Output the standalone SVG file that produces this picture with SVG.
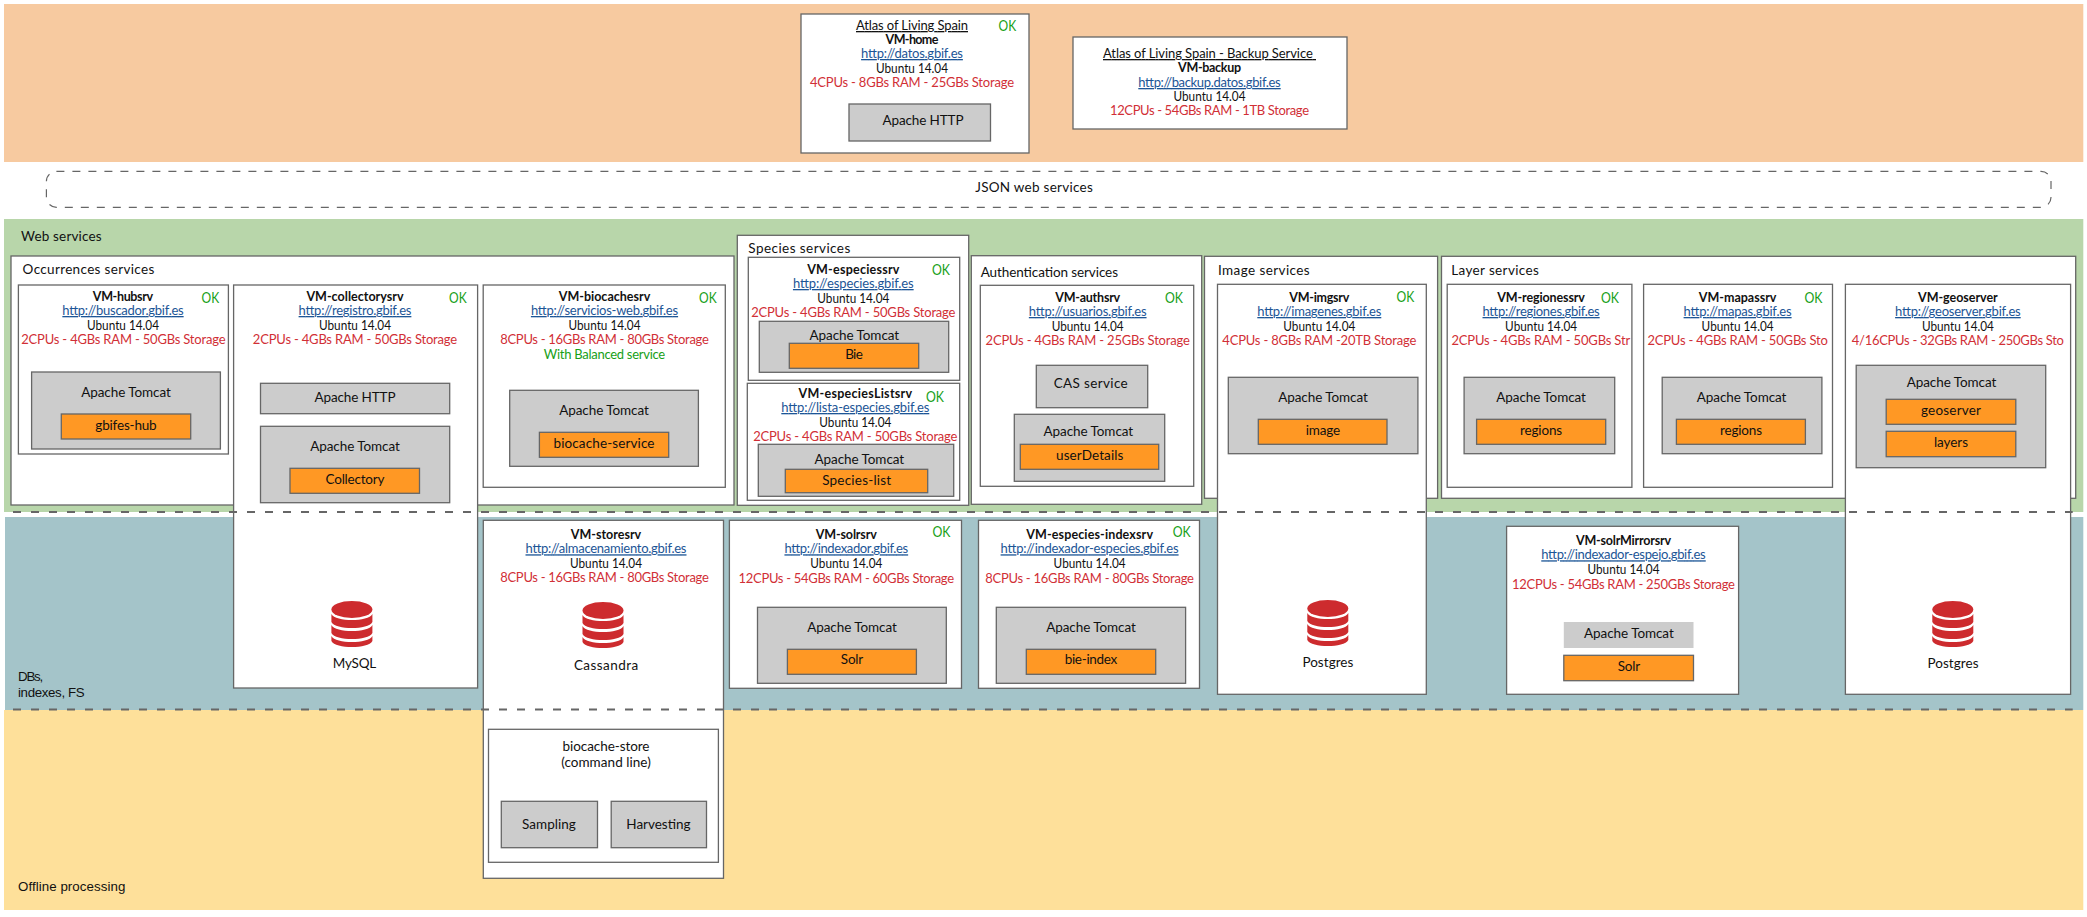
<svg xmlns="http://www.w3.org/2000/svg" xmlns:xlink="http://www.w3.org/1999/xlink" width="2087" height="917" viewBox="0 0 2087 917">
<style>
text{font-family:"Lato","Noto Sans","Liberation Sans",sans-serif;font-size:13.5px;fill:#111}
.m{text-anchor:middle}
.b{font-weight:700;font-size:12.5px}
.l{fill:#1c5596;text-decoration:underline;font-size:13px}
.r{fill:#d12f36;font-size:13px}
.k{fill:#17a017;font-size:15px}
.g{fill:#17a017;font-size:13px}
.u{text-decoration:underline;font-size:13px}
.a{font-family:"Liberation Sans",Arial,sans-serif;font-size:13.3px}
.w{fill:#fff;stroke:#666;stroke-width:1.3}
.y{fill:#ccc;stroke:#666;stroke-width:1.3}
.o{fill:#ff9824;stroke:#666;stroke-width:1.3}
.d{fill:none;stroke:#666;stroke-width:2.2;stroke-dasharray:8 10}
</style>
<defs>
<g id="db" fill="#cd2b2e">
<ellipse cx="20.5" cy="8.5" rx="20.5" ry="8.5"/>
<path d="M0 13C4 21 37 21 41 13V21C37 29 4 29 0 21Z"/>
<path d="M0 24C4 32 37 32 41 24V32C37 40 4 40 0 32Z"/>
<path d="M0 35C4 43 37 43 41 35V40C37 48 4 48 0 40Z"/>
</g>
</defs>
<rect width="2087" height="917" fill="#fff"/>
<g id="bands">
<rect x="4" y="4" width="2079.3" height="158" fill="#f7caa0"/>
<rect x="4" y="219" width="2079.3" height="293" fill="#b8d6aa"/>
<rect x="5" y="517" width="2078.3" height="193" fill="#a4c4c9"/>
<rect x="4" y="710" width="2079.3" height="200" fill="#fee09a"/>
<text x="21" y="241" textLength="80.7">Web services</text>
<text class="a" x="18" y="681" textLength="25.3">DBs,</text>
<text class="a" x="18" y="697" textLength="66.7">indexes, FS</text>
<text class="a" x="18" y="891" textLength="107.3">Offline processing</text>
</g>
<g id="json-web-services">
<rect x="46.4" y="171.3" width="2004.6" height="36" rx="10" fill="#fff" stroke="#666" stroke-width="1.2" stroke-dasharray="8 8"/>
<text class="m" x="1034" y="192" textLength="117.5">JSON web services</text>
</g>
<g id="vm-home">
<rect class="w" x="801" y="14" width="228" height="139"/>
<text class="m u" x="912" y="30" textLength="112">Atlas of Living Spain</text>
<text class="k" x="998.5" y="31" textLength="17.6" lengthAdjust="spacingAndGlyphs">OK</text>
<text class="m b" x="912" y="44" textLength="52.8">VM-home</text>
<text class="m l" x="912" y="58" textLength="101.8">http://datos.gbif.es</text>
<text class="m" x="912" y="73" textLength="72" lengthAdjust="spacingAndGlyphs">Ubuntu 14.04</text>
<text class="m r" x="912" y="87" textLength="204">4CPUs - 8GBs RAM - 25GBs Storage</text>
<rect class="y" x="849" y="104" width="141.5" height="37"/>
<text class="m" x="923" y="125" textLength="81">Apache HTTP</text>
</g>
<g id="vm-backup">
<rect class="w" x="1073" y="37" width="274" height="92"/>
<text class="m u" x="1209.5" y="58" textLength="213">Atlas of Living Spain - Backup Service&#160;</text>
<text class="m b" x="1209.5" y="72" textLength="63">VM-backup</text>
<text class="m l" x="1209.5" y="87" textLength="142.4">http://backup.datos.gbif.es</text>
<text class="m" x="1209.5" y="101" textLength="72" lengthAdjust="spacingAndGlyphs">Ubuntu 14.04</text>
<text class="m r" x="1209.5" y="115" textLength="199">12CPUs - 54GBs RAM - 1TB Storage</text>
</g>
<g id="occurrences-services">
<rect class="w" x="11" y="256" width="723" height="249"/>
<text x="22.6" y="274" textLength="131.7">Occurrences services</text>
</g>
<g id="species-services">
<rect class="w" x="737.3" y="235.3" width="231.4" height="270"/>
<text x="748.3" y="252.7" textLength="102">Species services</text>
</g>
<g id="authentication-services">
<rect class="w" x="971.3" y="255.7" width="230.4" height="248.6"/>
<text x="980.7" y="277.3" textLength="137.3">Authentication services</text>
</g>
<g id="image-services">
<rect class="w" x="1204.5" y="256.3" width="233.1" height="242"/>
<text x="1218" y="274.7" textLength="91.7">Image services</text>
</g>
<g id="layer-services">
<rect class="w" x="1441.5" y="256.3" width="634.2" height="242"/>
<text x="1451.2" y="274.7" textLength="87.7">Layer services</text>
</g>
<g id="vm-hubsrv">
<rect class="w" x="18.4" y="285" width="210" height="169"/>
<text class="m b" x="123" y="301" textLength="60.4">VM-hubsrv</text>
<text class="k" x="201.5" y="303" textLength="17.6" lengthAdjust="spacingAndGlyphs">OK</text>
<text class="m l" x="123" y="315" textLength="121.3">http://buscador.gbif.es</text>
<text class="m" x="123" y="330" textLength="72" lengthAdjust="spacingAndGlyphs">Ubuntu 14.04</text>
<text class="m r" x="123.4" y="344" textLength="204.3">2CPUs - 4GBs RAM - 50GBs Storage</text>
<rect class="y" x="31.6" y="372" width="188.8" height="77"/>
<text class="m" x="126" y="397" textLength="89.7">Apache Tomcat</text>
<rect class="o" x="61.3" y="414" width="129.4" height="25"/>
<text class="m" x="126" y="430" textLength="61.3">gbifes-hub</text>
</g>
<g id="vm-collectorysrv">
<rect class="w" x="233.6" y="285" width="244" height="403"/>
<text class="m b" x="355" y="301" textLength="97.2">VM-collectorysrv</text>
<text class="k" x="449" y="303" textLength="17.6" lengthAdjust="spacingAndGlyphs">OK</text>
<text class="m l" x="355" y="315" textLength="112.8">http://registro.gbif.es</text>
<text class="m" x="355" y="330" textLength="72" lengthAdjust="spacingAndGlyphs">Ubuntu 14.04</text>
<text class="m r" x="355" y="344" textLength="204.3">2CPUs - 4GBs RAM - 50GBs Storage</text>
<rect class="y" x="260.5" y="383.3" width="189.2" height="30.4"/>
<text class="m" x="355" y="402" textLength="81">Apache HTTP</text>
<rect class="y" x="260.5" y="426.3" width="189.2" height="76.4"/>
<text class="m" x="355" y="451" textLength="89.7">Apache Tomcat</text>
<rect class="o" x="290" y="468.3" width="129.5" height="25"/>
<text class="m" x="355" y="484" textLength="59">Collectory</text>
<use xlink:href="#db" href="#db" x="331.4" y="601"/>
<text class="m" x="354.5" y="668" textLength="43.4">MySQL</text>
</g>
<g id="vm-biocachesrv">
<rect class="w" x="483.2" y="285" width="242.1" height="202.3"/>
<text class="m b" x="604.5" y="301" textLength="91.5">VM-biocachesrv</text>
<text class="k" x="699" y="303" textLength="17.6" lengthAdjust="spacingAndGlyphs">OK</text>
<text class="m l" x="604.5" y="315" textLength="147.2">http://servicios-web.gbif.es</text>
<text class="m" x="604.5" y="330" textLength="72" lengthAdjust="spacingAndGlyphs">Ubuntu 14.04</text>
<text class="m r" x="604.5" y="344" textLength="208.6">8CPUs - 16GBs RAM - 80GBs Storage</text>
<text class="m g" x="604.5" y="359" textLength="121.3">With Balanced service</text>
<rect class="y" x="509.7" y="390.3" width="188.7" height="76"/>
<text class="m" x="604" y="415" textLength="89.7">Apache Tomcat</text>
<rect class="o" x="539.4" y="432.3" width="129.3" height="25"/>
<text class="m" x="604" y="448" textLength="101">biocache-service</text>
</g>
<g id="vm-especiessrv">
<rect class="w" x="748.3" y="257.3" width="211.4" height="123"/>
<text class="m b" x="853.3" y="273.7" textLength="92.3">VM-especiessrv</text>
<text class="k" x="932" y="275" textLength="18" lengthAdjust="spacingAndGlyphs">OK</text>
<text class="m l" x="853.3" y="288" textLength="120.7">http://especies.gbif.es</text>
<text class="m" x="853.3" y="302.7" textLength="72" lengthAdjust="spacingAndGlyphs">Ubuntu 14.04</text>
<text class="m r" x="853.3" y="316.7" textLength="204.3">2CPUs - 4GBs RAM - 50GBs Storage</text>
<rect class="y" x="759.3" y="321.3" width="189.4" height="51"/>
<text class="m" x="854.3" y="340" textLength="89.7">Apache Tomcat</text>
<rect class="o" x="789.3" y="343.3" width="129.4" height="25"/>
<text class="m" x="854" y="359" textLength="17.7">Bie</text>
</g>
<g id="vm-especieslistsrv">
<rect class="w" x="747.3" y="383.3" width="212.4" height="117"/>
<text class="m b" x="855.3" y="397.7" textLength="113.7">VM-especiesListsrv</text>
<text class="k" x="926" y="401.7" textLength="18" lengthAdjust="spacingAndGlyphs">OK</text>
<text class="m l" x="855.3" y="412" textLength="148">http://lista-especies.gbif.es</text>
<text class="m" x="855.3" y="426.7" textLength="72" lengthAdjust="spacingAndGlyphs">Ubuntu 14.04</text>
<text class="m r" x="855.3" y="440.7" textLength="204.3">2CPUs - 4GBs RAM - 50GBs Storage</text>
<rect class="y" x="758.3" y="444.3" width="195.4" height="52"/>
<text class="m" x="859.3" y="463.7" textLength="89.7">Apache Tomcat</text>
<rect class="o" x="785.3" y="469.3" width="142.4" height="23.4"/>
<text class="m" x="856.7" y="484.7" textLength="69">Species-list</text>
</g>
<g id="vm-authsrv">
<rect class="w" x="980.3" y="285.3" width="213.4" height="201"/>
<text class="m b" x="1087.7" y="301.7" textLength="65">VM-authsrv</text>
<text class="k" x="1165" y="302.7" textLength="18" lengthAdjust="spacingAndGlyphs">OK</text>
<text class="m l" x="1087.7" y="316" textLength="117.7">http://usuarios.gbif.es</text>
<text class="m" x="1087.7" y="330.7" textLength="72" lengthAdjust="spacingAndGlyphs">Ubuntu 14.04</text>
<text class="m r" x="1087.7" y="344.7" textLength="204.3">2CPUs - 4GBs RAM - 25GBs Storage</text>
<rect class="y" x="1036.3" y="365.3" width="111.4" height="42.4"/>
<text class="m" x="1090.7" y="388.3" textLength="74">CAS service</text>
<rect class="y" x="1014.3" y="414.3" width="150.4" height="67"/>
<text class="m" x="1088.3" y="436.3" textLength="89.7">Apache Tomcat</text>
<rect class="o" x="1020.3" y="444.3" width="138.4" height="25"/>
<text class="m" x="1089.7" y="459.7" textLength="67.3">userDetails</text>
</g>
<g id="vm-imgsrv">
<rect class="w" x="1217.5" y="284.3" width="208.8" height="410"/>
<text class="m b" x="1319.3" y="301.7" textLength="60">VM-imgsrv</text>
<text class="k" x="1396.5" y="301.7" textLength="17.8" lengthAdjust="spacingAndGlyphs">OK</text>
<text class="m l" x="1319.3" y="316" textLength="124">http://imagenes.gbif.es</text>
<text class="m" x="1319.3" y="330.7" textLength="72" lengthAdjust="spacingAndGlyphs">Ubuntu 14.04</text>
<text class="m r" x="1319.3" y="344.7" textLength="194">4CPUs - 8GBs RAM -20TB Storage</text>
<rect class="y" x="1228.3" y="377.3" width="189.6" height="76.4"/>
<text class="m" x="1323" y="401.7" textLength="89.7">Apache Tomcat</text>
<rect class="o" x="1258.3" y="419.3" width="128.7" height="25"/>
<text class="m" x="1323" y="435" textLength="34.5">image</text>
<use xlink:href="#db" href="#db" x="1307.3" y="600"/>
<text class="m" x="1327.9" y="667.3" textLength="51">Postgres</text>
</g>
<g id="vm-regionessrv">
<rect class="w" x="1447.2" y="284.3" width="184.7" height="203"/>
<text class="m b" x="1541.1" y="301.7" textLength="87.7">VM-regionessrv</text>
<text class="k" x="1601" y="303.3" textLength="18" lengthAdjust="spacingAndGlyphs">OK</text>
<text class="m l" x="1541.1" y="316" textLength="117.2">http://regiones.gbif.es</text>
<text class="m" x="1541.1" y="330.7" textLength="72" lengthAdjust="spacingAndGlyphs">Ubuntu 14.04</text>
<text class="m r" x="1540.8" y="344.7" textLength="178.7">2CPUs - 4GBs RAM - 50GBs Str</text>
<rect class="y" x="1464.1" y="377.3" width="150.6" height="76.4"/>
<text class="m" x="1541.1" y="401.7" textLength="89.7">Apache Tomcat</text>
<rect class="o" x="1476.6" y="419.3" width="129.1" height="25"/>
<text class="m" x="1541.1" y="435" textLength="42">regions</text>
</g>
<g id="vm-mapassrv">
<rect class="w" x="1643.6" y="284.3" width="188.9" height="203"/>
<text class="m b" x="1737.6" y="301.7" textLength="77.6">VM-mapassrv</text>
<text class="k" x="1804.4" y="303.3" textLength="18" lengthAdjust="spacingAndGlyphs">OK</text>
<text class="m l" x="1737.6" y="316" textLength="108">http://mapas.gbif.es</text>
<text class="m" x="1737.6" y="330.7" textLength="72" lengthAdjust="spacingAndGlyphs">Ubuntu 14.04</text>
<text class="m r" x="1737.6" y="344.7" textLength="180.4">2CPUs - 4GBs RAM - 50GBs Sto</text>
<rect class="y" x="1662.2" y="377.3" width="159.7" height="76.4"/>
<text class="m" x="1741.6" y="401.7" textLength="89.7">Apache Tomcat</text>
<rect class="o" x="1676.4" y="419.3" width="129" height="25"/>
<text class="m" x="1741" y="435" textLength="42">regions</text>
</g>
<g id="vm-geoserver">
<rect class="w" x="1845.4" y="284.3" width="225.2" height="410"/>
<text class="m b" x="1957.9" y="301.7" textLength="79.7">VM-geoserver</text>
<text class="m l" x="1957.9" y="316" textLength="125.6">http://geoserver.gbif.es</text>
<text class="m" x="1957.9" y="330.7" textLength="72" lengthAdjust="spacingAndGlyphs">Ubuntu 14.04</text>
<text class="m r" x="1957.9" y="344.7" textLength="212.1">4/16CPUs - 32GBs RAM - 250GBs Sto</text>
<rect class="y" x="1856.2" y="365.3" width="189.5" height="102.4"/>
<text class="m" x="1951.5" y="386.7" textLength="89.7">Apache Tomcat</text>
<rect class="o" x="1886.2" y="399.3" width="129.6" height="25"/>
<text class="m" x="1951" y="415" textLength="60">geoserver</text>
<rect class="o" x="1886.2" y="431.3" width="129.6" height="25.4"/>
<text class="m" x="1951" y="446.7" textLength="34">layers</text>
<use xlink:href="#db" href="#db" x="1932.3" y="601"/>
<text class="m" x="1953" y="668.3" textLength="51">Postgres</text>
</g>
<g id="vm-storesrv">
<rect class="w" x="483.3" y="520.3" width="240.2" height="358"/>
<text class="m b" x="606" y="539.3" textLength="70.3">VM-storesrv</text>
<text class="m l" x="606" y="553.3" textLength="161">http://almacenamiento.gbif.es</text>
<text class="m" x="606" y="568.3" textLength="72" lengthAdjust="spacingAndGlyphs">Ubuntu 14.04</text>
<text class="m r" x="604.5" y="582.3" textLength="208.6">8CPUs - 16GBs RAM - 80GBs Storage</text>
<use xlink:href="#db" href="#db" x="582.5" y="602"/>
<text class="m" x="606" y="669.7" textLength="64.2">Cassandra</text>
</g>
<g id="biocache-store">
<rect class="w" x="488.5" y="729.3" width="229.9" height="133"/>
<text class="m" x="606" y="750.7" textLength="86.8">biocache-store</text>
<text class="m" x="606" y="766.7" textLength="89.7">(command line)</text>
<rect class="y" x="501.3" y="801.3" width="96.2" height="46.4"/>
<text class="m" x="549" y="828.7" textLength="53.8">Sampling</text>
<rect class="y" x="611.2" y="801.3" width="95.3" height="46.4"/>
<text class="m" x="658.4" y="828.7" textLength="64.2">Harvesting</text>
</g>
<g id="vm-solrsrv">
<rect class="w" x="729.4" y="520.3" width="232.1" height="168"/>
<text class="m b" x="846.3" y="539.3" textLength="61">VM-solrsrv</text>
<text class="k" x="932.5" y="536.7" textLength="18" lengthAdjust="spacingAndGlyphs">OK</text>
<text class="m l" x="846.3" y="553.3" textLength="123.7">http://indexador.gbif.es</text>
<text class="m" x="846.3" y="568.3" textLength="72" lengthAdjust="spacingAndGlyphs">Ubuntu 14.04</text>
<text class="m r" x="846.3" y="582.7" textLength="215.6">12CPUs - 54GBs RAM - 60GBs Storage</text>
<rect class="y" x="757.5" y="607.3" width="188.8" height="76"/>
<text class="m" x="852" y="631.7" textLength="89.7">Apache Tomcat</text>
<rect class="o" x="787.4" y="649.3" width="129" height="25"/>
<text class="m" x="852" y="664.3" textLength="22.3">Solr</text>
</g>
<g id="vm-especies-indexsrv">
<rect class="w" x="978.5" y="520.3" width="221" height="168"/>
<text class="m b" x="1089.6" y="539.3" textLength="126.8">VM-especies-indexsrv</text>
<text class="k" x="1172.7" y="537.3" textLength="18" lengthAdjust="spacingAndGlyphs">OK</text>
<text class="m l" x="1089.6" y="553.3" textLength="178">http://indexador-especies.gbif.es</text>
<text class="m" x="1089.6" y="568.3" textLength="72" lengthAdjust="spacingAndGlyphs">Ubuntu 14.04</text>
<text class="m r" x="1089.6" y="582.7" textLength="208.6">8CPUs - 16GBs RAM - 80GBs Storage</text>
<rect class="y" x="996.3" y="607.3" width="189.3" height="76"/>
<text class="m" x="1091" y="631.7" textLength="89.7">Apache Tomcat</text>
<rect class="o" x="1026.3" y="649.3" width="129.4" height="25"/>
<text class="m" x="1091" y="664.3" textLength="52.7">bie-index</text>
</g>
<g id="vm-solrmirrorsrv">
<rect class="w" x="1506.6" y="526.3" width="232" height="168"/>
<text class="m b" x="1623.5" y="545" textLength="95">VM-solrMirrorsrv</text>
<text class="m l" x="1623.5" y="559.3" textLength="164.5">http://indexador-espejo.gbif.es</text>
<text class="m" x="1623.5" y="574.3" textLength="72" lengthAdjust="spacingAndGlyphs">Ubuntu 14.04</text>
<text class="m r" x="1623.5" y="588.7" textLength="222.9">12CPUs - 54GBs RAM - 250GBs Storage</text>
<rect x="1563.8" y="622" width="129.7" height="26" fill="#ccc"/>
<text class="m" x="1628.9" y="637.7" textLength="89.7">Apache Tomcat</text>
<rect class="o" x="1563.8" y="655.3" width="129.7" height="25.4"/>
<text class="m" x="1628.9" y="670.7" textLength="22.3">Solr</text>
</g>
<g id="connectors">
<line class="d" x1="13" y1="512" x2="2072.7" y2="512"/>
<line class="d" x1="13" y1="709.5" x2="2072.7" y2="709.5"/>
</g>
</svg>
